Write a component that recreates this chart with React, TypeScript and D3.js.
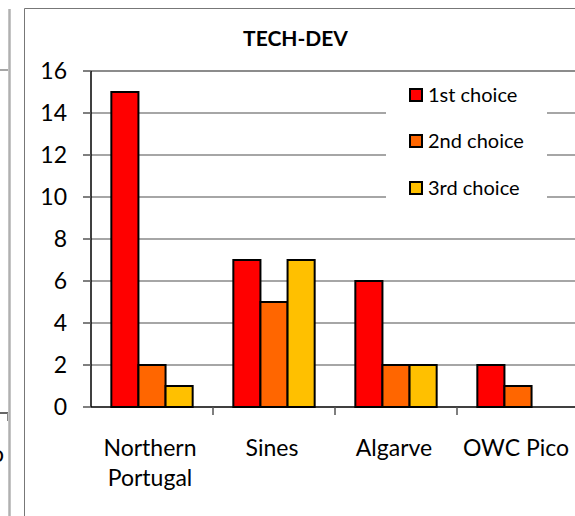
import React, { useEffect, useRef } from 'react';
import * as d3 from 'd3';

const categories = ['Northern Portugal', 'Sines', 'Algarve', 'OWC Pico'];
const seriesNames = ['1st choice', '2nd choice', '3rd choice'];
const firstChoice = [15, 7, 6, 2];
const secondChoice = [2, 5, 2, 1];
const thirdChoice = [1, 7, 2, 0];
const yTicks = [0, 2, 4, 6, 8, 10, 12, 14, 16];
const colors = ['#ff0000', '#ff6600', '#ffc000'];

const FONT = 'Lato, "Liberation Sans", sans-serif';

export default function App() {
  const ref = useRef<SVGSVGElement>(null);

  useEffect(() => {
    const svg = d3.select(ref.current);
    svg.selectAll('*').remove();

    const width = 575,
      height = 516;
    const plot = { left: 91, right: 579, top: 71, bottom: 407 };

    svg.append('rect').attr('width', width).attr('height', height).attr('fill', '#fff');

    // bits of the neighbouring chart on the left
    svg.append('line').attr('x1', 9.5).attr('x2', 9.5).attr('y1', 9).attr('y2', height)
      .attr('stroke', '#b0b0b0').attr('stroke-width', 2.5);
    svg.append('line').attr('x1', 0).attr('x2', 8).attr('y1', 70).attr('y2', 70)
      .attr('stroke', '#888').attr('stroke-width', 1.5);
    svg.append('line').attr('x1', 0).attr('x2', 8).attr('y1', 413).attr('y2', 413)
      .attr('stroke', '#333').attr('stroke-width', 1.5);
    svg.append('line').attr('x1', 7.5).attr('x2', 7.5).attr('y1', 413).attr('y2', 421)
      .attr('stroke', '#888').attr('stroke-width', 1);
    svg.append('text').attr('x', -9).attr('y', 462).attr('font-family', FONT)
      .attr('font-size', 23).attr('fill', '#000').text('o');

    // chart border
    svg.append('path').attr('d', `M24.5,${height}V8.5H${width}`)
      .attr('fill', 'none').attr('stroke', '#777').attr('stroke-width', 1);

    const y = d3.scaleLinear().domain([0, 16]).range([plot.bottom, plot.top]);
    const x0 = d3.scaleBand().domain(categories).range([plot.left, plot.right]);
    const x1 = d3.scaleBand().domain(seriesNames).range([0, x0.bandwidth()]).paddingOuter(0.75);

    // gridlines
    svg.append('g').selectAll('line').data(yTicks.filter((d) => d > 0)).enter()
      .append('line')
      .attr('x1', plot.left).attr('x2', width)
      .attr('y1', (d) => y(d)).attr('y2', (d) => y(d))
      .attr('stroke', (d) => (d === 16 ? '#8c8c8c' : '#a6a6a6'))
      .attr('stroke-width', 2);

    // bars
    const values = [firstChoice, secondChoice, thirdChoice];
    const rows = categories.map((c, i) => ({
      cat: c,
      vals: seriesNames.map((s, j) => ({ s, v: values[j][i], color: colors[j] })),
    }));
    const groups = svg.append('g').selectAll('g').data(rows).enter()
      .append('g')
      .attr('transform', (d) => 'translate(' + x0(d.cat) + ',0)');
    groups.selectAll('rect').data((d) => d.vals.filter((e) => e.v > 0)).enter()
      .append('rect')
      .attr('x', (d) => x1(d.s) as number)
      .attr('y', (d) => y(d.v))
      .attr('width', x1.bandwidth())
      .attr('height', (d) => y(0) - y(d.v))
      .attr('fill', (d) => d.color)
      .attr('stroke', '#000')
      .attr('stroke-width', 2);

    // y axis
    svg.append('line').attr('x1', plot.left).attr('x2', plot.left)
      .attr('y1', plot.top).attr('y2', plot.bottom)
      .attr('stroke', '#000').attr('stroke-width', 1.5);
    svg.append('g').selectAll('line').data(yTicks).enter()
      .append('line')
      .attr('x1', plot.left - 8).attr('x2', plot.left)
      .attr('y1', (d) => y(d)).attr('y2', (d) => y(d))
      .attr('stroke', '#555').attr('stroke-width', 1.5);
    svg.append('g').selectAll('text').data(yTicks).enter()
      .append('text')
      .attr('x', 67)
      .attr('y', (d) => y(d) + 8)
      .attr('text-anchor', 'end')
      .attr('font-family', FONT)
      .attr('font-size', 23)
      .attr('fill', '#000')
      .text((d) => d);

    // x axis
    svg.append('line').attr('x1', plot.left).attr('x2', width)
      .attr('y1', plot.bottom).attr('y2', plot.bottom)
      .attr('stroke', '#000').attr('stroke-width', 1.5);
    svg.append('g').selectAll('line').data(categories.slice(1)).enter()
      .append('line')
      .attr('x1', (d) => x0(d) as number).attr('x2', (d) => x0(d) as number)
      .attr('y1', plot.bottom).attr('y2', plot.bottom + 8)
      .attr('stroke', '#555').attr('stroke-width', 1.5);
    const labels = svg.append('g').selectAll('text').data(categories).enter()
      .append('text')
      .attr('text-anchor', 'middle')
      .attr('font-family', FONT)
      .attr('font-size', 23)
      .attr('fill', '#000');
    labels.each(function (d) {
      const cx = (x0(d) as number) + x0.bandwidth() / 2 - 2;
      const words = d === 'OWC Pico' ? [d] : d.split(' ');
      words.forEach((w, i) => {
        d3.select(this).append('tspan').attr('x', cx).attr('y', 456 + i * 30).text(w);
      });
    });

    // title
    svg.append('text').attr('x', 295.5).attr('y', 46).attr('text-anchor', 'middle')
      .attr('font-family', FONT).attr('font-size', 21).attr('font-weight', 'bold')
      .attr('fill', '#000').text('TECH-DEV');

    // legend
    const legend = svg.append('g');
    legend.append('rect').attr('x', 386).attr('y', 72).attr('width', 161).attr('height', 140)
      .attr('fill', '#fff');
    const item = legend.selectAll('g').data(seriesNames).enter()
      .append('g')
      .attr('transform', (d, i) => 'translate(0,' + [95, 141, 188][i] + ')');
    item.append('rect').attr('x', 410).attr('y', -6).attr('width', 12).attr('height', 12)
      .attr('fill', (d, i) => colors[i]).attr('stroke', '#000').attr('stroke-width', 2);
    item.append('text').attr('x', 428).attr('y', 7)
      .attr('font-family', FONT).attr('font-size', 20).attr('fill', '#000')
      .text((d) => d);
  }, []);

  return (
    <div style={{ position: 'absolute', left: 0, top: 0 }}>
      <svg ref={ref} width={575} height={516} style={{ display: 'block' }} />
    </div>
  );
}
